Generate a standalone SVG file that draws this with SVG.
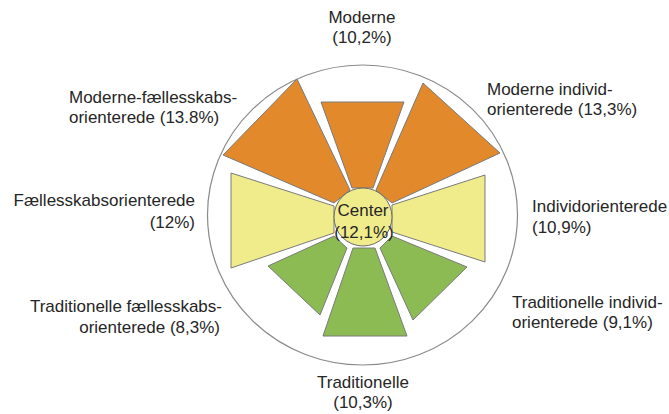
<svg xmlns="http://www.w3.org/2000/svg" width="669" height="414" viewBox="0 0 669 414">
<style>
.t{font-family:"Liberation Sans",Arial,sans-serif;font-size:17px;fill:#262626}
.m{text-anchor:middle}
.e{text-anchor:end}
.w{stroke:#7a7a7a;stroke-width:1;stroke-linejoin:round}
.o{fill:#E28A2B}
.y{fill:#F0EC8C}
.g{fill:#8DBB53}
</style>
<rect width="669" height="414" fill="#fff"/>
<ellipse id="frame" cx="362.5" cy="215" rx="155" ry="150" fill="#fff" stroke="#8a8a8a" stroke-width="1.2"/>
<g id="moderne">
<polygon class="w o" points="321,102 404,102 373,188 352,188"/>
<text class="t m" x="362" y="23">Moderne</text>
<text class="t m" x="362" y="43">(10,2%)</text>
</g>
<g id="moderne-faellesskab">
<polygon class="w o" points="297,79 350,190 334,203 223,155"/>
<text class="t" x="69" y="103">Moderne-fællesskabs-</text>
<text class="t" x="69" y="123">orienterede (13.8%)</text>
</g>
<g id="moderne-individ">
<polygon class="w o" points="423,83 500,153 392,203 376,190"/>
<text class="t" x="487" y="95">Moderne individ-</text>
<text class="t" x="487" y="115">orienterede (13,3%)</text>
</g>
<g id="faellesskab">
<polygon class="w y" points="231,173 334,206 334,233 231,268"/>
<text class="t e" x="195" y="206">Fællesskabsorienterede</text>
<text class="t e" x="195" y="228">(12%)</text>
</g>
<g id="individ">
<polygon class="w y" points="485,175 392,205 392,232 485,262"/>
<text class="t" x="532" y="212">Individorienterede</text>
<text class="t" x="532" y="233">(10,9%)</text>
</g>
<g id="trad-faellesskab">
<polygon class="w g" points="268,266 334,236 347,248 320,315"/>
<text class="t e" x="222" y="312">Traditionelle fællesskabs-</text>
<text class="t e" x="220" y="333">orienterede (8,3%)</text>
</g>
<g id="traditionelle">
<polygon class="w g" points="323,336 353,248 375,248 407,336"/>
<text class="t m" x="363" y="388">Traditionelle</text>
<text class="t m" x="363" y="408">(10,3%)</text>
</g>
<g id="trad-individ">
<polygon class="w g" points="392,236 467,267 413,320 380,248"/>
<text class="t" x="512" y="308">Traditionelle individ-</text>
<text class="t" x="512" y="328">orienterede (9,1%)</text>
</g>
<g id="center">
<circle cx="363" cy="217" r="29" fill="#F0EC8C" stroke="#6a6a6a" stroke-width="1"/>
<text class="t m" x="363" y="216">Center</text>
<text class="t m" x="364" y="238">(12,1%)</text>
</g>
</svg>
